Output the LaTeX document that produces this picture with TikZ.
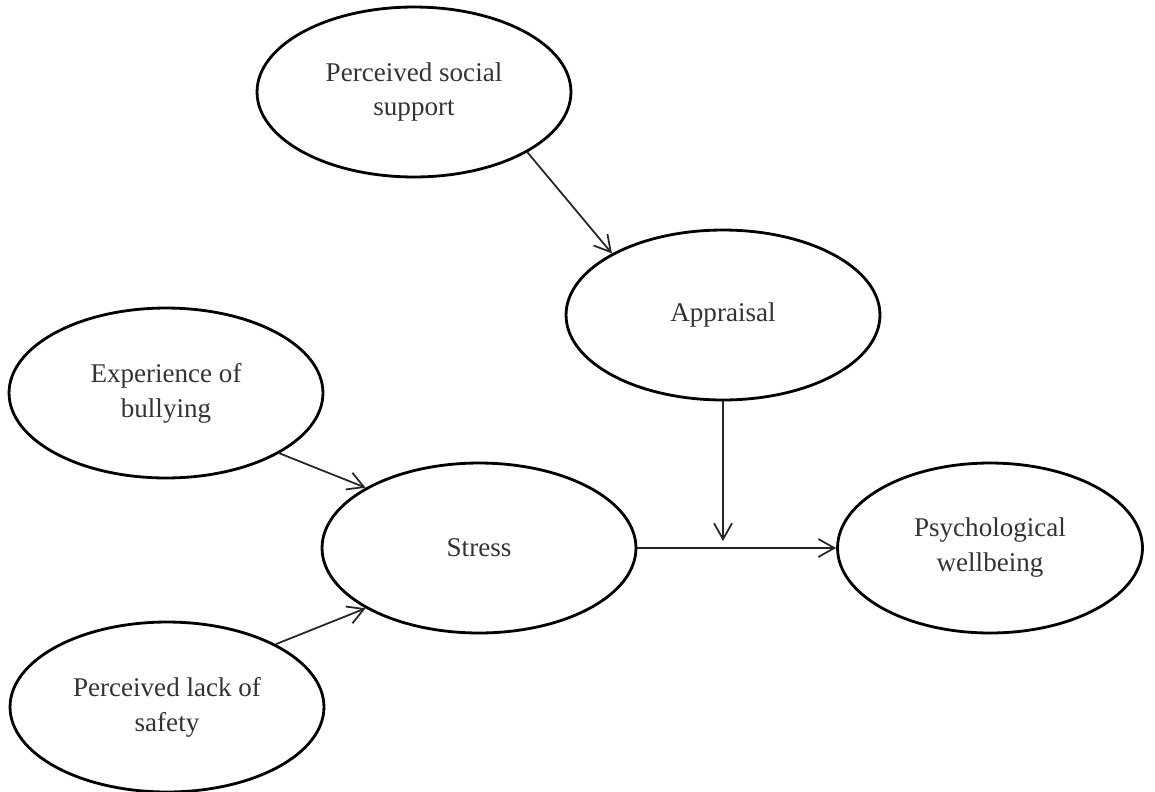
\documentclass[tikz,border=0pt]{standalone}
\usepackage{fontspec}
\setmainfont{Liberation Serif}
\usetikzlibrary{shapes.geometric,arrows.meta}

\tikzset{
  construct/.style={draw, ellipse, line width=1.6pt, minimum width=6.28cm,
    minimum height=3.4cm, inner sep=0pt, align=center, text=black!80,
    font=\fontsize{15.4}{19.9}\selectfont},
  link/.style={-{Straight Barb[length=3.2mm,width=3.6mm]}, line width=1pt, black!85},
}

\begin{document}
\begin{tikzpicture}[x=0.02cm, y=-0.02cm]
	\useasboundingbox (0,0) rectangle (1155,791);
	%\draw [help lines, step=50] (0,0) grid (1155,791);
	\node [construct] (support) at (414,92) {Perceived social\\support};
	\node [construct] (appraisal) at (723,315) {Appraisal};
	\node [construct] (bullying) at (166,393) {Experience of\\bullying};
	\node [construct] (stress) at (479,548) {Stress};
	\node [construct, minimum width=6.1cm] (wellbeing) at (990,548) {Psychological\\wellbeing};
	\node [construct] (safety) at (167,707) {Perceived lack of\\safety};
	\coordinate (meet) at (723,541);
	\draw [link] (support.-28) -- (appraisal.151);
	\draw [link] (appraisal.south) -- (meet);
	\draw [link] (bullying.-28) -- (stress.152);
	\draw [link] (safety.30) -- (stress.208);
	\draw [link] (stress.east) -- (wellbeing.west);
\end{tikzpicture}
\end{document}
